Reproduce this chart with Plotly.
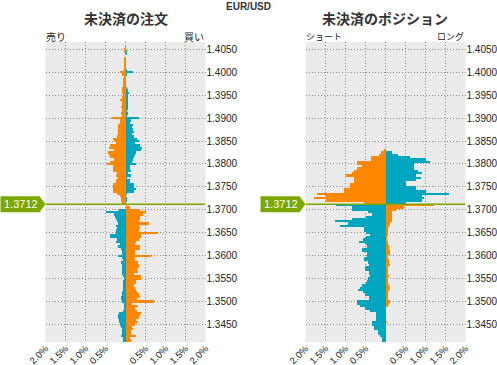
import plotly.graph_objects as go

# ---------------- data ----------------
current_price = 1.3712

prices = [
    1.4065, 1.4060, 1.4055,
    1.4050, 1.4045, 1.4040, 1.4035, 1.4030, 1.4025, 1.4020, 1.4015, 1.4010, 1.4005,
    1.4000, 1.3995, 1.3990, 1.3985, 1.3980, 1.3975, 1.3970, 1.3965, 1.3960, 1.3955,
    1.3950, 1.3945, 1.3940, 1.3935, 1.3930, 1.3925, 1.3920, 1.3915, 1.3910, 1.3905,
    1.3900, 1.3895, 1.3890, 1.3885, 1.3880, 1.3875, 1.3870, 1.3865, 1.3860, 1.3855,
    1.3850, 1.3845, 1.3840, 1.3835, 1.3830, 1.3825, 1.3820, 1.3815, 1.3810, 1.3805,
    1.3800, 1.3795, 1.3790, 1.3785, 1.3780, 1.3775, 1.3770, 1.3765, 1.3760, 1.3755,
    1.3750, 1.3745, 1.3740, 1.3735, 1.3730, 1.3725, 1.3720, 1.3715, 1.3710, 1.3705,
    1.3700, 1.3695, 1.3690, 1.3685, 1.3680, 1.3675, 1.3670, 1.3665, 1.3660, 1.3655,
    1.3650, 1.3645, 1.3640, 1.3635, 1.3630, 1.3625, 1.3620, 1.3615, 1.3610, 1.3605,
    1.3600, 1.3595, 1.3590, 1.3585, 1.3580, 1.3575, 1.3570, 1.3565, 1.3560, 1.3555,
    1.3550, 1.3545, 1.3540, 1.3535, 1.3530, 1.3525, 1.3520, 1.3515, 1.3510, 1.3505,
    1.3500, 1.3495, 1.3490, 1.3485, 1.3480, 1.3475, 1.3470, 1.3465, 1.3460, 1.3455,
    1.3450, 1.3445, 1.3440, 1.3435, 1.3430, 1.3425, 1.3420, 1.3415,
]

# open orders (%): sell side (left) and buy side (right)
order_sell = [
    0, 0, 0.02,
    0.05, 0.05, 0.02, 0, 0.05, 0.05, 0.04, 0.03, 0.04, 0.05,
    0.15, 0.08, 0.04, 0.06, 0.07, 0.07, 0.07, 0.10, 0.09, 0.08,
    0.07, 0.10, 0.13, 0.09, 0.08, 0.12, 0.10, 0.09, 0.12, 0.10,
    0.37, 0.15, 0.15, 0.20, 0.18, 0.20, 0.20, 0.18, 0.22, 0.32,
    0.30, 0.23, 0.40, 0.42, 0.30, 0.45, 0.42, 0.40, 0.28, 0.40,
    0.47, 0.32, 0.32, 0.32, 0.22, 0.25, 0.20, 0.25, 0.25, 0.32,
    0.32, 0.32, 0.32, 0.22, 0.15, 0.12, 0.12, 0.08, 0.0, 0.0,
    0.17, 0.49, 0.29, 0.27, 0.24, 0.22, 0.19, 0.24, 0.22, 0.24,
    0.24, 0.39, 0.39, 0.22, 0.24, 0.14, 0.19, 0.12, 0.09, 0.09,
    0.19, 0.09, 0.07, 0.12, 0.09, 0.09, 0.09, 0.09, 0.09, 0.07,
    0.04, 0.07, 0.07, 0.07, 0.07, 0.07, 0.09, 0.09, 0.12, 0.12,
    0.09, 0.04, 0.04, 0.04, 0.07, 0.17, 0.19, 0.19, 0.17, 0.17,
    0.14, 0.12, 0.09, 0.09, 0.09, 0.12, 0.07, 0.07,
]
order_buy = [
    0, 0, 0.02,
    0.02, 0.03, 0.04, 0.01, 0.01, 0.01, 0.02, 0.02, 0.02, 0.03,
    0.18, 0.04, 0.02, 0.01, 0.01, 0.02, 0.02, 0.04, 0.06, 0.09,
    0.06, 0.05, 0.07, 0.07, 0.07, 0.07, 0.07, 0.04, 0.05, 0.04,
    0.33, 0.14, 0.10, 0.18, 0.17, 0.18, 0.20, 0.16, 0.20, 0.28,
    0.33, 0.23, 0.35, 0.42, 0.38, 0.25, 0.23, 0.20, 0.18, 0.17,
    0.25, 0.12, 0.12, 0.14, 0.06, 0.14, 0.04, 0.12, 0.12, 0.22,
    0.22, 0.25, 0.22, 0.03, 0.02, 0.04, 0.04, 0.0, 0.04, 0.11,
    0.36, 0.51, 0.43, 0.36, 0.36, 0.33, 0.58, 0.33, 0.35, 0.33,
    0.81, 0.38, 0.38, 0.33, 0.26, 0.23, 0.36, 0.36, 0.23, 0.23,
    0.63, 0.23, 0.23, 0.31, 0.33, 0.33, 0.28, 0.31, 0.21, 0.38,
    0.38, 0.26, 0.26, 0.21, 0.23, 0.26, 0.28, 0.33, 0.36, 0.28,
    0.71, 0.16, 0.31, 0.23, 0.28, 0.38, 0.36, 0.33, 0.26, 0.31,
    0.23, 0.16, 0.18, 0.13, 0.14, 0.26, 0.11, 0.13,
]

# open positions (%): short side (left) and long side (right)
pos_short = [
    0, 0, 0,
    0, 0, 0, 0, 0, 0, 0, 0, 0, 0,
    0, 0, 0, 0, 0, 0, 0, 0, 0, 0,
    0, 0, 0, 0, 0, 0, 0, 0, 0, 0,
    0, 0, 0, 0, 0, 0, 0, 0, 0, 0,
    0, 0, 0, 0, 0.05, 0.12, 0.17, 0.37, 0.37, 0.72,
    0.72, 0.60, 0.72, 0.80, 0.85, 1.00, 0.80, 0.80, 0.80, 0.90,
    0.90, 1.05, 1.05, 1.72, 1.50, 1.80, 1.50, 0.55, 1.25, 0.85,
    0.85, 0.45, 0.35, 0.50, 0.85, 1.27, 0.95, 1.15, 0.55, 0.55,
    0.50, 0.40, 0.50, 0.57, 0.67, 0.50, 0.47, 0.60, 0.60, 0.47,
    0.47, 0.55, 0.55, 0.45, 0.42, 0.52, 0.52, 0.42, 0.42, 0.40,
    0.45, 0.47, 0.50, 0.60, 0.65, 0.70, 0.57, 0.52, 0.42, 0.42,
    0.72, 0.72, 0.65, 0.52, 0.40, 0.25, 0.25, 0.25, 0.25, 0.33,
    0.33, 0.28, 0.28, 0.20, 0.20, 0.15, 0.10, 0.10,
]
pos_long = [
    0, 0, 0,
    0, 0, 0, 0, 0, 0, 0, 0, 0, 0,
    0, 0, 0, 0, 0, 0, 0, 0, 0, 0,
    0, 0, 0, 0, 0, 0, 0, 0, 0, 0,
    0, 0, 0, 0, 0, 0, 0, 0, 0, 0,
    0, 0, 0, 0, 0, 0.15, 0.30, 0.60, 1.00, 1.10,
    0.72, 0.72, 0.72, 0.82, 0.90, 0.75, 0.88, 0.75, 0.52, 0.52,
    0.75, 0.75, 1.00, 1.58, 0.92, 0.95, 0.90, 0.52, 1.20, 0.45,
    0.25, 0.15, 0.15, 0.17, 0.17, 0.15, 0.10, 0.08, 0.05, 0.05,
    0.05, 0.05, 0.03, 0.03, 0.05, 0.05, 0.08, 0.08, 0.10, 0.10,
    0.05, 0.05, 0.08, 0.08, 0.10, 0.05, 0.05, 0.05, 0.05, 0.08,
    0.05, 0.05, 0.05, 0.08, 0.10, 0.08, 0.05, 0.05, 0.05, 0.05,
    0.10, 0.08, 0.05, 0, 0, 0, 0, 0, 0, 0.03,
    0, 0, 0, 0, 0, 0, 0, 0,
]

x_ticks = [-2.0, -1.5, -1.0, -0.5, 0.0, 0.5, 1.0, 1.5, 2.0]
x_tick_labels = ["2.0%", "1.5%", "1.0%", "0.5%", "", "0.5%", "1.0%", "1.5%", "2.0%"]
y_ticks = [1.3450, 1.3500, 1.3550, 1.3600, 1.3650, 1.3700, 1.3750,
           1.3800, 1.3850, 1.3900, 1.3950, 1.4000, 1.4050]

pair_title = "EUR/USD"
left_title = "未決済の注文"
right_title = "未決済のポジション"
left_labels = ("売り", "買い")
right_labels = ("ショート", "ロング")

# ---------------- style ----------------
ORANGE = "#FF8800"
TEAL = "#00A5C0"
GREEN = "#7BA700"
GRID = "#8C8C8C"
BG = "#EBEBEB"
TXT = "#222222"
FONT = "Liberation Sans, Arial, sans-serif"
JFONT = "Noto Sans CJK JP, sans-serif"

W, H = 497, 365
def fx(p):
    return p / W
def fy(p):
    return 1 - p / H

left_dom = [fx(45.5), fx(205.5)]
right_dom = [fx(305.5), fx(465.5)]
y_dom = [fy(342.3), fy(42)]
bar_w = 0.0005

above = [p > current_price for p in prices]

fig = go.Figure()

def add_panel(left_vals, right_vals, xa, ya):
    fig.add_trace(go.Bar(
        y=prices, x=[-v for v in left_vals], orientation="h", width=bar_w,
        marker=dict(color=[ORANGE if a else TEAL for a in above], line=dict(width=0)),
        xaxis=xa, yaxis=ya, hoverinfo="skip", showlegend=False))
    fig.add_trace(go.Bar(
        y=prices, x=right_vals, orientation="h", width=bar_w,
        marker=dict(color=[TEAL if a else ORANGE for a in above], line=dict(width=0)),
        xaxis=xa, yaxis=ya, hoverinfo="skip", showlegend=False))

add_panel(order_sell, order_buy, "x", "y")
add_panel(pos_short, pos_long, "x2", "y2")

DOTS = "1px,2px"
xcommon = dict(range=[-2, 2], tickmode="array", tickvals=x_ticks, ticktext=x_tick_labels,
               tickangle=-45, showgrid=True, gridcolor=GRID, griddash=DOTS, gridwidth=1,
               zeroline=False, showline=False, ticks="", automargin=False,
               ticklabelstandoff=-2,
               tickfont=dict(size=9.5, color=TXT, family=FONT), fixedrange=True)
ycommon = dict(range=[1.3411, 1.4066], domain=y_dom, side="right", tickmode="array",
               tickvals=y_ticks, tickformat=".4f", showgrid=True, gridcolor=GRID,
               griddash=DOTS, gridwidth=1, zeroline=False, showline=False, ticks="",
               automargin=False,
               tickfont=dict(size=10, color=TXT, family=FONT), fixedrange=True)

fig.update_layout(
    width=W, height=H, margin=dict(l=0, r=0, t=0, b=0, autoexpand=False),
    paper_bgcolor="white", plot_bgcolor=BG,
    barmode="overlay", bargap=0, hovermode=False, showlegend=False,
    xaxis=dict(domain=left_dom, anchor="y", **xcommon),
    yaxis=dict(anchor="x", **ycommon),
    xaxis2=dict(domain=right_dom, anchor="y2", **xcommon),
    yaxis2=dict(anchor="x2", **ycommon),
)

shapes = []
annotations = []
for dom, xr, yr in ((left_dom, "x", "y"), (right_dom, "x2", "y2")):
    shapes.append(dict(type="line", xref=xr, yref=yr, x0=-2, x1=2,
                       y0=current_price, y1=current_price,
                       line=dict(color=GREEN, width=1.5)))
    shapes.append(dict(type="path", xref="paper", yref=yr, xsizemode="pixel",
                       ysizemode="pixel", xanchor=dom[0], yanchor=current_price,
                       path="M-45,-8 L-6,-8 L0,0 L-6,8 L-45,8 Z",
                       fillcolor=GREEN, line=dict(width=0), layer="above"))
    annotations.append(dict(x=dom[0] - fx(25), y=current_price, xref="paper", yref=yr,
                            text=f"{current_price:.4f}", showarrow=False,
                            font=dict(size=11, color="white", family=FONT),
                            xanchor="center", yanchor="middle"))

annotations += [
    dict(x=fx(248), y=fy(-1), xref="paper", yref="paper", text=f"<b>{pair_title}</b>",
         showarrow=False, xanchor="center", yanchor="top",
         font=dict(size=10, color="#333333", family=FONT)),
    dict(x=(left_dom[0] + left_dom[1]) / 2, y=fy(18), xref="paper", yref="paper",
         text=f"<b>{left_title}</b>", showarrow=False, xanchor="center", yanchor="middle",
         font=dict(size=14, color="#333333", family=JFONT)),
    dict(x=(right_dom[0] + right_dom[1]) / 2, y=fy(18), xref="paper", yref="paper",
         text=f"<b>{right_title}</b>", showarrow=False, xanchor="center", yanchor="middle",
         font=dict(size=14, color="#333333", family=JFONT)),
    dict(x=left_dom[0] - fx(2), y=fy(36), xref="paper", yref="paper", text=left_labels[0],
         showarrow=False, xanchor="left", yanchor="middle",
         font=dict(size=10, color=TXT, family=JFONT)),
    dict(x=left_dom[1], y=fy(36), xref="paper", yref="paper", text=left_labels[1],
         showarrow=False, xanchor="right", yanchor="middle",
         font=dict(size=10, color=TXT, family=JFONT)),
    dict(x=right_dom[0] - fx(2), y=fy(36), xref="paper", yref="paper", text=right_labels[0],
         showarrow=False, xanchor="left", yanchor="middle",
         font=dict(size=9, color=TXT, family=JFONT)),
    dict(x=right_dom[1], y=fy(36), xref="paper", yref="paper", text=right_labels[1],
         showarrow=False, xanchor="right", yanchor="middle",
         font=dict(size=9, color=TXT, family=JFONT)),
]

fig.update_layout(shapes=shapes, annotations=annotations)
fig.write_html(
    "out.html",
    config={"displayModeBar": False, "staticPlot": True},
    post_script="document.body.style.margin='0';document.body.style.overflow='hidden';",
)
